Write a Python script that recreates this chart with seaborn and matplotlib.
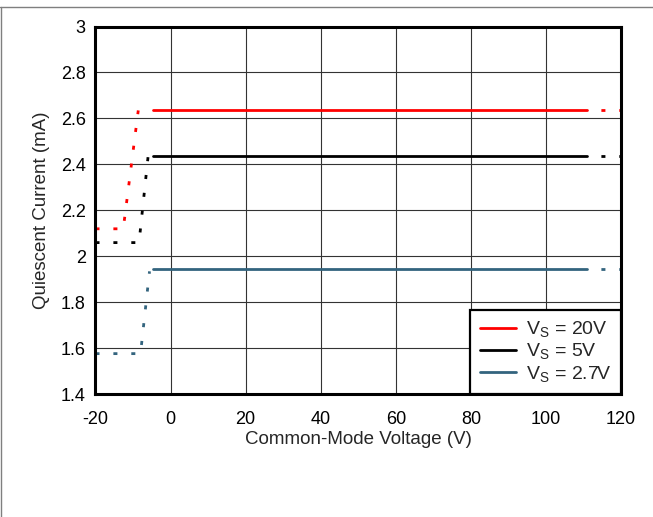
import pandas as pd
import matplotlib.pyplot as plt
import seaborn as sns
from matplotlib.lines import Line2D
from matplotlib.ticker import FuncFormatter, MultipleLocator

# Quiescent current (mA) vs common-mode voltage (V)
vcm_20v = [-20, -12.6, -8.6, -4.8, 111, 120]
iq_20v = [2.12, 2.12, 2.635, 2.638, 2.638, 2.638]
vcm_5v = [-20, -8.4, -6.0, -4.8, 111, 120]
iq_5v = [2.06, 2.06, 2.432, 2.436, 2.436, 2.436]
vcm_2v7 = [-20, -8.0, -5.6, -4.8, 111, 120]
iq_2v7 = [1.577, 1.577, 1.935, 1.945, 1.945, 1.945]

# specified range drawn solid, outside it dotted
spec_lo = -4.8
spec_hi = 111

labels = [r'V$_\mathrm{S}$ = 20V', r'V$_\mathrm{S}$ = 5V', r'V$_\mathrm{S}$ = 2.7V']
colors = ['#ff0000', '#000000', '#33647e']

sns.set_style('white')
plt.rcParams['font.family'] = ['Liberation Sans', 'DejaVu Sans']
plt.rcParams['mathtext.fontset'] = 'custom'
plt.rcParams['mathtext.rm'] = 'Liberation Sans'
plt.rcParams['axes.unicode_minus'] = False

fig = plt.figure(figsize=(6.53, 5.17), dpi=100)
ax = fig.add_axes([0.1462, 0.2373, 0.8048, 0.7114])

dotted = (0, (1.45, 5.0))
dotted_late = (1.45, (1.45, 5.0))

curves = [(vcm_20v, iq_20v), (vcm_5v, iq_5v), (vcm_2v7, iq_2v7)]
for (vx, vy), lab, col in zip(curves, labels, colors):
    df = pd.DataFrame({'vcm': vx, 'iq': vy})
    left = df[df['vcm'] < spec_lo]
    mid = df[(df['vcm'] >= spec_lo) & (df['vcm'] <= spec_hi)]
    right = df[df['vcm'] >= spec_hi]
    sns.lineplot(data=left, x='vcm', y='iq', ax=ax, color=col, lw=2,
                 linestyle=dotted, sort=False, estimator=None)
    sns.lineplot(data=mid, x='vcm', y='iq', ax=ax, color=col, lw=2,
                 sort=False, estimator=None, label=lab)
    sns.lineplot(data=right, x='vcm', y='iq', ax=ax, color=col, lw=2,
                 linestyle=dotted_late, sort=False, estimator=None)

ax.set_xlim(-20, 120)
ax.set_ylim(1.4, 3.0)
ax.xaxis.set_major_locator(MultipleLocator(20))
ax.yaxis.set_major_locator(MultipleLocator(0.2))
ax.yaxis.set_major_formatter(FuncFormatter(lambda v, p: '%g' % round(v, 2)))
ax.grid(True, color='#333333', lw=0.8)
ax.set_axisbelow(True)
for s in ax.spines.values():
    s.set_visible(True)
    s.set_color('black')
    s.set_linewidth(2.2)
ax.tick_params(axis='both', length=0, labelsize=13, colors='black')
ax.tick_params(axis='y', pad=7)
ax.tick_params(axis='x', pad=12)

ax.set_xlabel('Common-Mode Voltage (V)', fontsize=13.5, labelpad=2.5)
ax.set_ylabel('Quiescent Current (mA)', fontsize=13.5, labelpad=8)

leg = ax.legend(loc='lower right', bbox_to_anchor=(1, 0), borderaxespad=0,
                fontsize=14, handlelength=1.85, handletextpad=0.55,
                labelspacing=0.1, borderpad=0.5, fancybox=False,
                framealpha=1, edgecolor='black')
leg.get_frame().set_linewidth(1.6)

# screenshot frame lines (top and left edges)
fig.add_artist(Line2D([0, 1], [0.9859, 0.9859], transform=fig.transFigure,
                      color='#7f7f7f', lw=1))
fig.add_artist(Line2D([0.0015, 0.0015], [0, 0.9859], transform=fig.transFigure,
                      color='#7f7f7f', lw=1))

fig.savefig('out.png', dpi=100)
